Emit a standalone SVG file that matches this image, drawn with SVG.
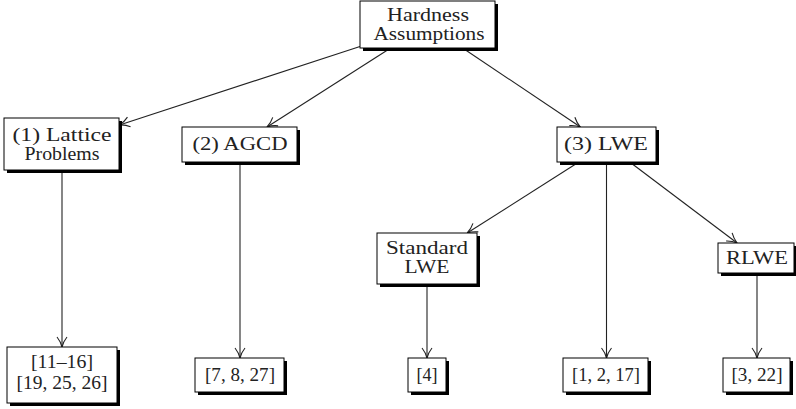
<svg xmlns="http://www.w3.org/2000/svg" width="796" height="409" viewBox="0 0 796 409">
<style>
.box{fill:#fff;stroke:#000;stroke-width:1}
.sh{fill:#000}
.t{font-family:"Liberation Serif","DejaVu Serif",serif;font-size:19px;fill:#222;text-anchor:middle}
.e{stroke:#222;stroke-width:1.1;fill:none;marker-end:url(#arr)}
</style>
<defs>
<marker id="arr" markerUnits="userSpaceOnUse" markerWidth="13" markerHeight="12" viewBox="-11 -6 13 12" refX="0" refY="0" orient="auto">
<path d="M -10 -5 C -6.5 -2.2, -2.5 -0.6, 0 0 C -2.5 0.6, -6.5 2.2, -10 5" fill="none" stroke="#222" stroke-width="1.1"/>
</marker>
</defs>
<rect width="796" height="409" fill="#fff"/>
<g id="connectors">
<line class="e" x1="360" y1="46.5" x2="119.5" y2="125"/>
<line class="e" x1="390.7" y1="48" x2="267" y2="127"/>
<line class="e" x1="462.6" y1="48" x2="580.4" y2="127"/>
<line class="e" x1="578.9" y1="162" x2="467.2" y2="233"/>
<line class="e" x1="629.7" y1="162" x2="737.1" y2="243"/>
<line class="e" x1="62" y1="170" x2="62" y2="347"/>
<line class="e" x1="240" y1="162" x2="240" y2="358"/>
<line class="e" x1="606.5" y1="162" x2="606.5" y2="358"/>
<line class="e" x1="427" y1="284" x2="427" y2="358"/>
<line class="e" x1="757" y1="273" x2="757" y2="358"/>
</g>
<g id="hardness">
<rect class="sh" x="363" y="4" width="135" height="47"/>
<rect class="box" x="360" y="1" width="135" height="47"/>
<text class="t" x="428" y="21" textLength="82" lengthAdjust="spacingAndGlyphs">Hardness</text>
<text class="t" x="429" y="40" textLength="111" lengthAdjust="spacingAndGlyphs">Assumptions</text>
</g>
<g id="lattice">
<rect class="sh" x="7" y="121" width="115" height="52"/>
<rect class="box" x="4" y="118" width="115" height="52"/>
<text class="t" x="62" y="141" textLength="99" lengthAdjust="spacingAndGlyphs">(1) Lattice</text>
<text class="t" x="62" y="160" textLength="75" lengthAdjust="spacingAndGlyphs">Problems</text>
</g>
<g id="agcd">
<rect class="sh" x="185" y="130" width="115" height="35"/>
<rect class="box" x="182" y="127" width="115" height="35"/>
<text class="t" x="240" y="150" textLength="95" lengthAdjust="spacingAndGlyphs">(2) AGCD</text>
</g>
<g id="lwe">
<rect class="sh" x="560" y="130" width="99" height="35"/>
<rect class="box" x="557" y="127" width="99" height="35"/>
<text class="t" x="606" y="150" textLength="84" lengthAdjust="spacingAndGlyphs">(3) LWE</text>
</g>
<g id="standard-lwe">
<rect class="sh" x="380" y="236" width="100" height="51"/>
<rect class="box" x="377" y="233" width="100" height="51"/>
<text class="t" x="427" y="254" textLength="82" lengthAdjust="spacingAndGlyphs">Standard</text>
<text class="t" x="427" y="273" textLength="45" lengthAdjust="spacingAndGlyphs">LWE</text>
</g>
<g id="rlwe">
<rect class="sh" x="721" y="246" width="76" height="30"/>
<rect class="box" x="718" y="243" width="76" height="30"/>
<text class="t" x="757" y="264" textLength="62" lengthAdjust="spacingAndGlyphs">RLWE</text>
</g>
<g id="ref-lattice">
<rect class="sh" x="10" y="350" width="110" height="56"/>
<rect class="box" x="7" y="347" width="110" height="56"/>
<text class="t" x="62" y="368" textLength="62" lengthAdjust="spacingAndGlyphs">[11–16]</text>
<text class="t" x="62" y="389" textLength="91" lengthAdjust="spacingAndGlyphs">[19, 25, 26]</text>
</g>
<g id="ref-agcd">
<rect class="sh" x="198" y="361" width="89" height="34"/>
<rect class="box" x="195" y="358" width="89" height="34"/>
<text class="t" x="240" y="381" textLength="70" lengthAdjust="spacingAndGlyphs">[7, 8, 27]</text>
</g>
<g id="ref-standard">
<rect class="sh" x="411" y="361" width="38" height="34"/>
<rect class="box" x="408" y="358" width="38" height="34"/>
<text class="t" x="427" y="381" textLength="21" lengthAdjust="spacingAndGlyphs">[4]</text>
</g>
<g id="ref-lwe">
<rect class="sh" x="566" y="361" width="85" height="34"/>
<rect class="box" x="563" y="358" width="85" height="34"/>
<text class="t" x="606" y="381" textLength="68" lengthAdjust="spacingAndGlyphs">[1, 2, 17]</text>
</g>
<g id="ref-rlwe">
<rect class="sh" x="726" y="361" width="67" height="34"/>
<rect class="box" x="723" y="358" width="67" height="34"/>
<text class="t" x="757" y="381" textLength="51" lengthAdjust="spacingAndGlyphs">[3, 22]</text>
</g>
</svg>
